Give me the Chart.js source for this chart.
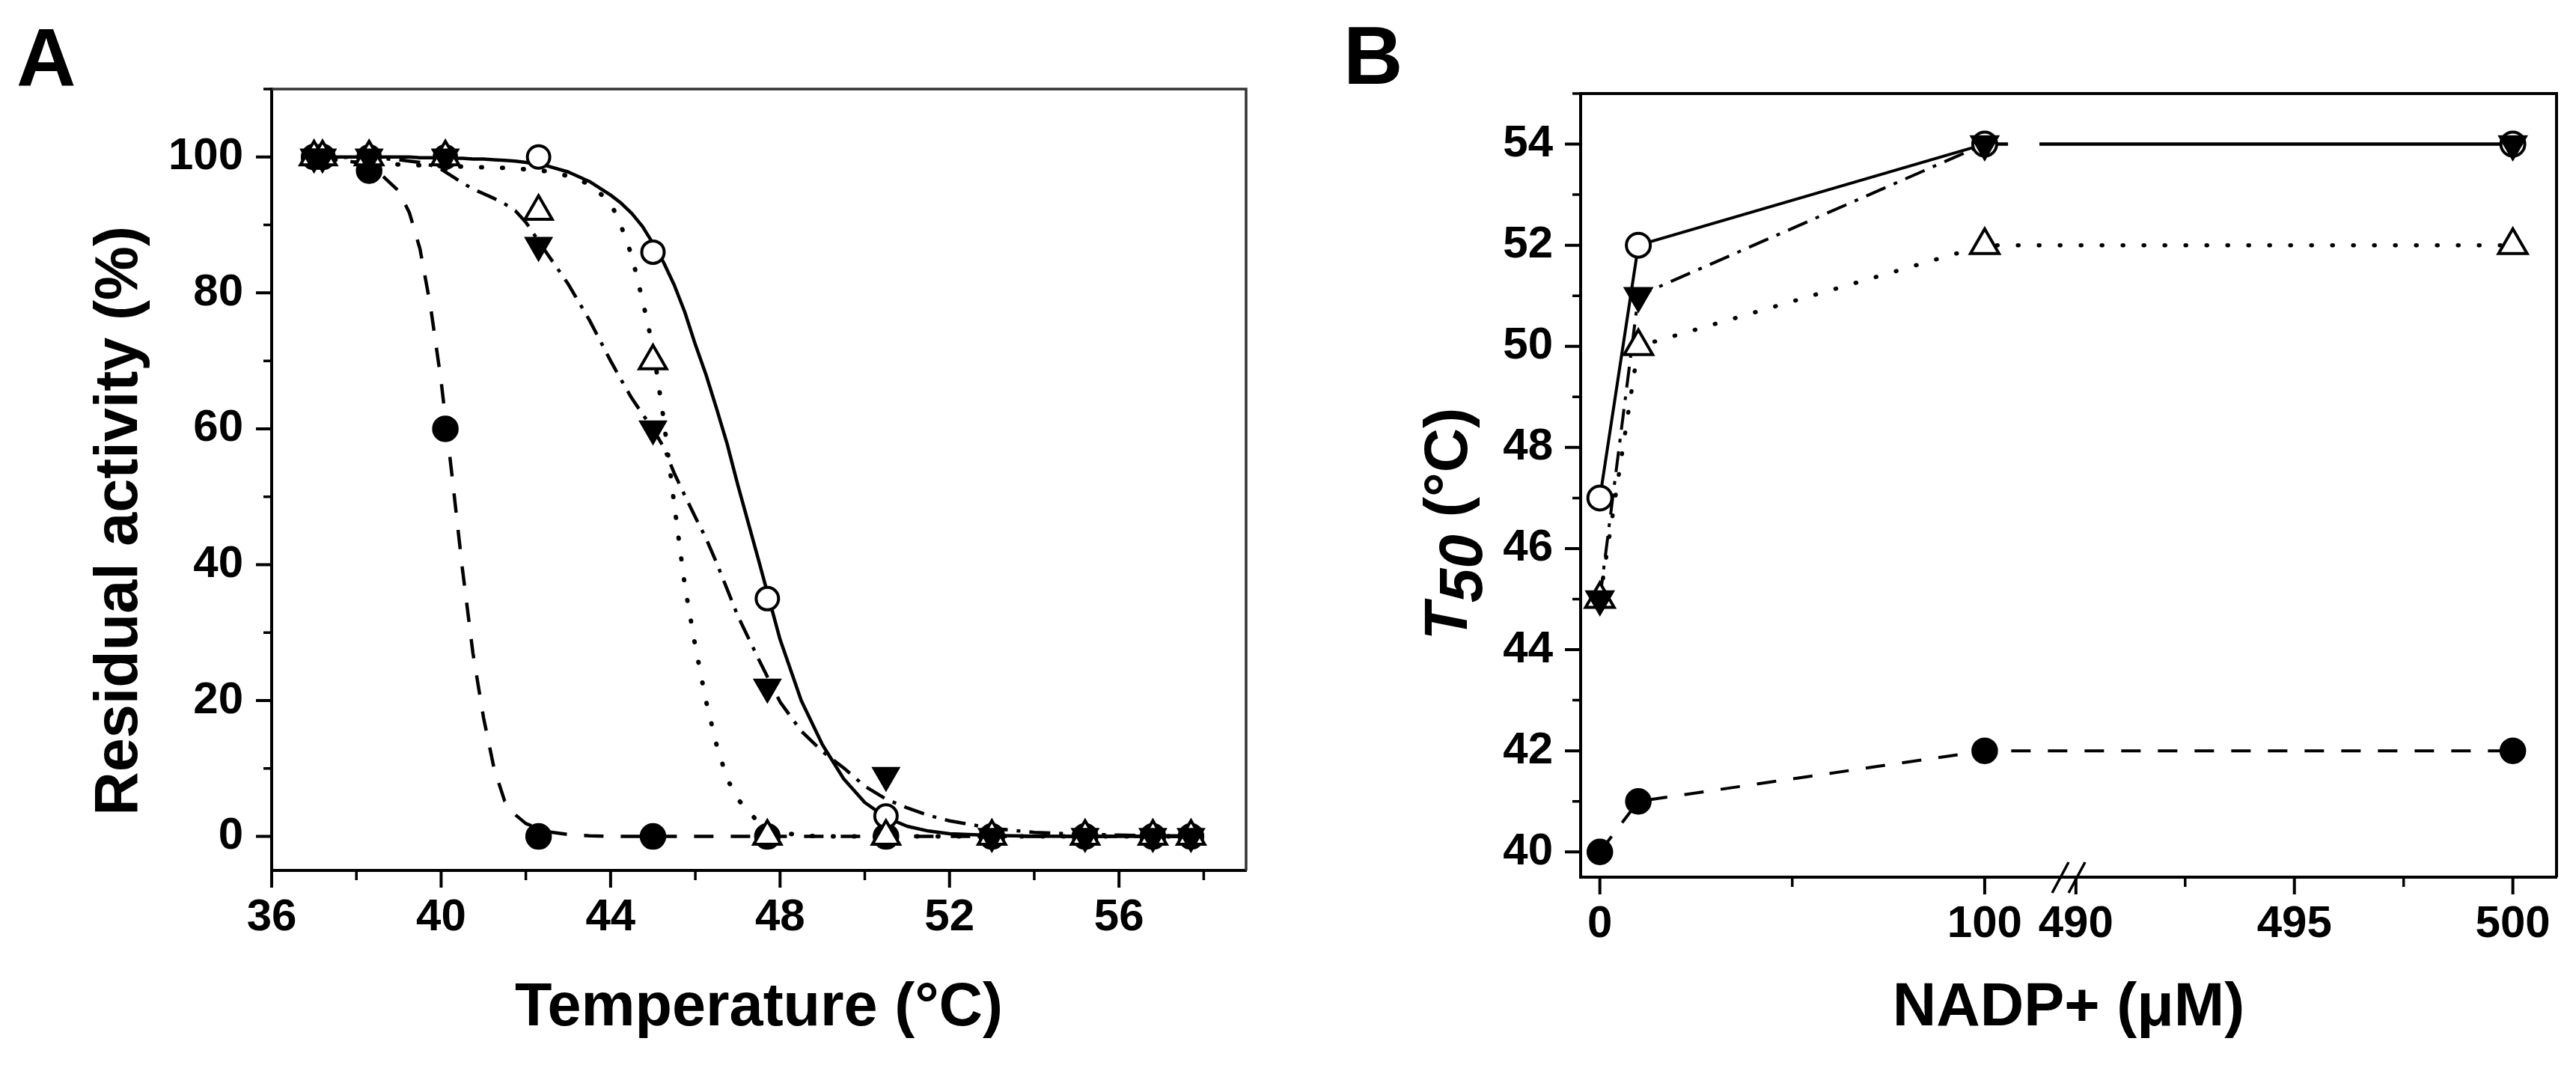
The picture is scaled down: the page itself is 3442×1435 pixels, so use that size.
<!DOCTYPE html>
<html>
<head>
<meta charset="utf-8">
<title>Thermal inactivation and NADP+ protection</title>
<script src="https://cdn.jsdelivr.net/npm/chart.js@4.4.1/dist/chart.umd.min.js"></script>
<style>
  html, body { margin: 0; padding: 0; background: #fff; }
  body { width: 3442px; height: 1435px; position: relative; overflow: hidden; }
  canvas { position: absolute; top: 0; }
  #panelA { left: 0; }
  #panelB { left: 1720px; }
</style>
</head>
<body>
<canvas id="panelA" width="1720" height="1435"></canvas>
<canvas id="panelB" width="1722" height="1435"></canvas>
<script>
const FONT = "'Liberation Sans', Arial, Helvetica, sans-serif";

// ---------- Panel A: residual activity after heating ----------
const tempPoints = [37.0, 37.2, 38.3, 40.1, 42.3, 45.0, 47.7, 50.5, 53.0, 55.2, 56.8, 57.7];
const activityOpenCircle     = [100, 100, 100, 100, 100, 86, 35, 3, 0, 0, 0, 0];
const activityOpenTriangle   = [100, 100, 100, 100, 92, 70, 0, 0, 0, 0, 0, 0];
const activityFilledTriangle = [100, 100, 100, 100, 87, 60, 22, 9, 0, 0, 0, 0];
const activityFilledCircle   = [100, 100, 98, 60, 0, 0, 0, 0, 0, 0, 0, 0];

// fitted curves
const fitTemps = [
  37, 37.5, 38, 38.5, 39, 39.25, 39.5, 39.75,
  40, 40.25, 40.5, 40.75, 41, 41.25, 41.5, 41.75,
  42, 42.5, 43, 43.5, 44, 44.25, 44.5, 44.75,
  45, 45.25, 45.5, 45.75, 46, 46.25, 46.5, 46.75,
  47, 47.5, 48, 48.5, 49, 49.5, 50, 50.5,
  51, 51.5, 52, 53, 54, 55, 56, 57, 57.7
];
const fitOpenCircle = [
  100, 100, 100, 100, 100, 100, 99.9, 99.9,
  99.9, 99.8, 99.8, 99.7, 99.7, 99.6, 99.5, 99.4,
  99.2, 98.7, 97.8, 96.4, 94.4, 93.2, 91.7, 89.8,
  87.3, 84.5, 81.2, 77.2, 72.4, 68, 63, 57.8,
  51.8, 40.5, 29, 20, 13.5, 8.5, 5, 2.8,
  1.5, 0.8, 0.4, 0.15, 0.05, 0, 0, 0, 0
];
const fitOpenTriangle = [
  100, 99.6, 99.2, 99, 98.9, 98.8, 98.8, 98.7,
  98.7, 98.6, 98.6, 98.5, 98.5, 98.4, 98.4, 98.3,
  98.2, 97.9, 97.2, 96, 93.3, 89.8, 85.5, 79,
  72, 61.5, 49, 37, 28, 20, 13.5, 8.5,
  5.5, 2, 0.6, 0.15, 0, 0, 0, 0,
  0, 0, 0, 0, 0, 0, 0, 0, 0
];
const fitFilledTriangle = [
  100, 100, 99.9, 99.8, 99.6, 99.4, 99.2, 98.8,
  98.2, 97.2, 96.2, 95.3, 94.6, 93.9, 93.1, 92.1,
  90.4, 85.8, 81.3, 76, 70, 67.2, 64.5, 62.2,
  60, 57.3, 53.5, 50.2, 47, 43.9, 40.3, 36.4,
  32.5, 26, 19.8, 15.5, 12.5, 10.1, 7.4, 5.5,
  4.2, 3.1, 2.3, 1.2, 0.6, 0.35, 0.2, 0.1, 0.1
];
const fitFilledCircle = [
  99.9, 99.7, 99.2, 97.9, 95, 91.8, 86.5, 78,
  67, 53.5, 39.5, 27, 17.5, 10, 5.2, 3.2,
  1.9, 0.7, 0.3, 0.1, 0, 0, 0, 0,
  0, 0, 0, 0, 0, 0, 0, 0,
  0, 0, 0, 0, 0, 0, 0, 0,
  0, 0, 0, 0, 0, 0, 0, 0, 0
];

const tempTicks = [36, 40, 44, 48, 52, 56];
const tempMinorTicks = [38, 42, 46, 50, 54, 58];
const activityTicks = [0, 20, 40, 60, 80, 100];
const activityMinorTicks = [10, 30, 50, 70, 90, 110];

// ---------- Panel B: T50 versus NADP+ ----------
const nadpConc = [0, 10, 100, 500];
const t50OpenCircle     = [47, 52, 54, 54];
const t50FilledTriangle = [45, 51, 54, 54];
const t50OpenTriangle   = [45, 50, 52, 52];
const t50FilledCircle   = [40, 41, 42, 42];

const nadpTicks = [0, 100, 490, 495, 500];
const nadpMinorTicks = [50, 492.5, 497.5];
const t50Ticks = [40, 42, 44, 46, 48, 50, 52, 54];
const t50MinorTicks = [41, 43, 45, 47, 49, 51, 53, 55];

// broken x axis: the low part and the high part share the axis width
const NADP_LOW = [-5, 122];
const NADP_HIGH = [489.85, 501];
const NADP_SPLIT = 0.5008;

function nadpToDecimal(v) {
  if (v <= NADP_LOW[1]) {
    return (v - NADP_LOW[0]) / (NADP_LOW[1] - NADP_LOW[0]) * NADP_SPLIT;
  }
  return NADP_SPLIT + (v - NADP_HIGH[0]) / (NADP_HIGH[1] - NADP_HIGH[0]) * (1 - NADP_SPLIT);
}

function decimalToNadp(d) {
  if (d <= NADP_SPLIT) {
    return NADP_LOW[0] + d / NADP_SPLIT * (NADP_LOW[1] - NADP_LOW[0]);
  }
  return NADP_HIGH[0] + (d - NADP_SPLIT) / (1 - NADP_SPLIT) * (NADP_HIGH[1] - NADP_HIGH[0]);
}

// Linear scale with a gap in the middle (Origin style axis break)
class BrokenLinearScale extends Chart.LinearScale {
  getPixelForValue(value) {
    return this.getPixelForDecimal(nadpToDecimal(value));
  }
  getValueForPixel(pixel) {
    return decimalToNadp(this.getDecimalForPixel(pixel));
  }
}
BrokenLinearScale.id = 'brokenLinear';
BrokenLinearScale.defaults = Chart.LinearScale.defaults;
Chart.register(BrokenLinearScale);

// ---------- styles ----------
const LINE_STYLES = {
  solid:   { borderDash: [], borderCapStyle: 'butt' },
  dotted:  { borderDash: [1, 27], borderCapStyle: 'round' },
  dashDot: { borderDash: [28, 12, 5, 12], borderCapStyle: 'butt' },
  dashed:  { borderDash: [26, 23], borderCapStyle: 'butt' }
};

function marker(kind, radius) {
  const filled = kind === 'filledCircle' || kind === 'filledTriangle';
  return {
    pointStyle: kind.indexOf('Circle') >= 0 ? 'circle' : 'triangle',
    pointRotation: kind === 'filledTriangle' ? 180 : 0,
    pointRadius: radius,
    pointBackgroundColor: filled ? '#000' : '#fff',
    pointBorderColor: '#000',
    pointBorderWidth: filled ? 1.5 : 4
  };
}

function markerSeries(xs, ys, style, order) {
  return Object.assign({
    data: xs.map((x, i) => ({ x: x, y: ys[i] })),
    showLine: false,
    order: order
  }, style);
}

function curveSeries(xs, ys, style, width, order, extra) {
  return Object.assign({
    data: xs.map((x, i) => ({ x: x, y: ys[i] })),
    showLine: true,
    pointRadius: 0,
    borderColor: '#000',
    borderWidth: width,
    borderJoinStyle: 'round',
    tension: 0,
    order: order
  }, style, extra || {});
}

// The lines at the top leave a short gap just before the axis break
function breakGap(ctx) {
  const x0 = nadpConc[ctx.p0DataIndex];
  const x1 = nadpConc[ctx.p1DataIndex];
  if (!(x0 <= NADP_LOW[1] && x1 >= NADP_HIGH[0])) {
    return undefined;
  }
  const breakPx = ctx.chart.scales.x.getPixelForValue(NADP_HIGH[0]);
  return [Math.max(1, breakPx - 82 - ctx.p0.x), 42, 100000];
}

// ---------- drawing helpers ----------
function drawTickMarks(ctx, scale, values, length, width) {
  ctx.lineWidth = width;
  ctx.beginPath();
  values.forEach(v => {
    const p = scale.getPixelForValue(v);
    if (scale.isHorizontal()) {
      ctx.moveTo(p, scale.top);
      ctx.lineTo(p, scale.top + length);
    } else {
      ctx.moveTo(scale.right - length, p);
      ctx.lineTo(scale.right, p);
    }
  });
  ctx.stroke();
}

function drawRotatedTitle(ctx, parts, baseX, centerY) {
  ctx.save();
  ctx.translate(baseX, centerY);
  ctx.rotate(-Math.PI / 2);
  ctx.fillStyle = '#000';
  ctx.textAlign = 'left';
  ctx.textBaseline = 'alphabetic';
  const widths = parts.map(p => { ctx.font = p.font; return ctx.measureText(p.text).width; });
  let x = -widths.reduce((a, b) => a + b, 0) / 2;
  parts.forEach((p, i) => {
    ctx.font = p.font;
    ctx.fillText(p.text, x, p.shift || 0);
    x += widths[i];
  });
  ctx.restore();
}

function panelDecorations(cfg) {
  return {
    id: 'panelDecorations',
    afterDraw(chart) {
      const { ctx, chartArea, scales } = chart;
      ctx.save();
      ctx.strokeStyle = '#000';
      ctx.lineCap = 'butt';

      // outward ticks, long for labelled values, short in between
      drawTickMarks(ctx, scales.x, cfg.xMajor, 23, 4);
      drawTickMarks(ctx, scales.x, cfg.xMinor, 13, 3.5);
      drawTickMarks(ctx, scales.y, cfg.yMajor, 21, 4);
      drawTickMarks(ctx, scales.y, cfg.yMinor, 11, 3.5);

      // top and right edges of the frame
      ctx.strokeStyle = cfg.frameColor;
      ctx.lineWidth = cfg.frameWidth;
      ctx.beginPath();
      ctx.moveTo(chartArea.left, chartArea.top);
      ctx.lineTo(chartArea.right, chartArea.top);
      ctx.lineTo(chartArea.right, chartArea.bottom);
      ctx.stroke();

      if (cfg.axisBreak) {
        const bx = scales.x.getPixelForValue(NADP_HIGH[0]);
        const by = chartArea.bottom;
        ctx.strokeStyle = '#000';
        ctx.lineWidth = 3.5;
        ctx.beginPath();
        ctx.moveTo(bx - 23, by + 21);
        ctx.lineTo(bx - 1, by - 20);
        ctx.moveTo(bx - 1, by + 21);
        ctx.lineTo(bx + 21, by - 20);
        ctx.stroke();
      }

      drawRotatedTitle(ctx, cfg.yTitle, cfg.yTitleX, cfg.yTitleY);

      // panel letter
      ctx.fillStyle = '#000';
      ctx.font = 'bold 110px ' + FONT;
      ctx.textAlign = 'left';
      ctx.textBaseline = 'alphabetic';
      ctx.fillText(cfg.letter, cfg.letterX, cfg.letterY);
      ctx.restore();
    }
  };
}

function axisOptions(extra) {
  return Object.assign({
    grid: { display: false, drawTicks: false },
    border: { display: true, color: '#000', width: 4 },
    ticks: {
      autoSkip: false,
      maxRotation: 0,
      color: '#000',
      font: { family: FONT, size: 60, weight: 'bold' },
      callback: v => String(v)
    }
  }, extra);
}

function setTicks(values) {
  return scale => { scale.ticks = values.map(v => ({ value: v })); };
}

function baseOptions(padding, scales) {
  return {
    responsive: false,
    devicePixelRatio: 1,
    animation: false,
    events: [],
    layout: { padding: padding },
    plugins: { legend: { display: false }, tooltip: { enabled: false } },
    scales: scales
  };
}

// ---------- Panel A ----------
const xA = axisOptions({
  type: 'linear', min: 36, max: 59,
  afterBuildTicks: setTicks(tempTicks),
  afterFit: s => { s.height = 272; },
  title: {
    display: true, text: 'Temperature (°C)', color: '#000',
    font: { family: FONT, size: 81, weight: 'bold' },
    padding: { top: 0, bottom: 39 }
  }
});
xA.ticks.padding = 27;

const yA = axisOptions({
  type: 'linear', min: -5, max: 110,
  afterBuildTicks: setTicks(activityTicks),
  afterFit: s => { s.width = 363; }
});
yA.ticks.padding = 38;

new Chart(document.getElementById('panelA'), {
  type: 'scatter',
  data: {
    datasets: [
      markerSeries(tempPoints, activityFilledTriangle, marker('filledTriangle', 21), 0),
      markerSeries(tempPoints, activityOpenTriangle, marker('openTriangle', 21), 1),
      markerSeries(tempPoints, activityOpenCircle, marker('openCircle', 15), 2),
      markerSeries(tempPoints, activityFilledCircle, marker('filledCircle', 17), 3),
      curveSeries(fitTemps, fitOpenCircle, LINE_STYLES.solid, 4.5, 10),
      curveSeries(fitTemps, fitOpenTriangle, LINE_STYLES.dotted, 6, 11),
      curveSeries(fitTemps, fitFilledTriangle, LINE_STYLES.dashDot, 4.5, 12),
      curveSeries(fitTemps, fitFilledCircle, LINE_STYLES.dashed, 4.5, 13)
    ]
  },
  options: baseOptions({ top: 119, right: 55, left: 0, bottom: 0 }, { x: xA, y: yA }),
  plugins: [panelDecorations({
    xMajor: tempTicks, xMinor: tempMinorTicks,
    yMajor: activityTicks, yMinor: activityMinorTicks,
    frameColor: '#333', frameWidth: 3.5,
    yTitle: [{ text: 'Residual activity (%)', font: 'bold 81px ' + FONT }],
    yTitleX: 183, yTitleY: 696,
    letter: 'A', letterX: 22, letterY: 114
  })]
});

// ---------- Panel B ----------
const xB = axisOptions({
  type: 'brokenLinear', min: -5, max: 501,
  afterBuildTicks: setTicks(nadpTicks),
  afterFit: s => { s.height = 263; },
  title: {
    display: true, text: 'NADP+ (μM)', color: '#000',
    font: { family: FONT, size: 81, weight: 'bold' },
    padding: { top: 0, bottom: 39 }
  }
});
xB.ticks.padding = 27;

const yB = axisOptions({
  type: 'linear', min: 39.5, max: 55,
  afterBuildTicks: setTicks(t50Ticks),
  afterFit: s => { s.width = 392; }
});
yB.ticks.padding = 37;

new Chart(document.getElementById('panelB'), {
  type: 'scatter',
  data: {
    datasets: [
      markerSeries(nadpConc, t50FilledTriangle, marker('filledTriangle', 22), 0),
      markerSeries(nadpConc, t50OpenTriangle, marker('openTriangle', 22), 1),
      markerSeries(nadpConc, t50OpenCircle, marker('openCircle', 16), 2),
      markerSeries(nadpConc, t50FilledCircle, marker('filledCircle', 17), 3),
      curveSeries(nadpConc, t50OpenCircle, LINE_STYLES.solid, 4, 10, { segment: { borderDash: breakGap } }),
      curveSeries(nadpConc, t50OpenTriangle, LINE_STYLES.dotted, 5.5, 11),
      curveSeries(nadpConc, t50FilledTriangle, LINE_STYLES.dashDot, 4, 12, { segment: { borderDash: breakGap } }),
      curveSeries(nadpConc, t50FilledCircle, LINE_STYLES.dashed, 4, 13)
    ]
  },
  options: baseOptions({ top: 125, right: 26, left: 0, bottom: 0 }, { x: xB, y: yB }),
  plugins: [panelDecorations({
    xMajor: nadpTicks, xMinor: nadpMinorTicks,
    yMajor: t50Ticks, yMinor: t50MinorTicks,
    frameColor: '#000', frameWidth: 4,
    axisBreak: true,
    yTitle: [
      { text: 'T', font: 'italic bold 82px ' + FONT },
      { text: '50', font: 'italic bold 82px ' + FONT, shift: 20 },
      { text: ' (°C)', font: 'bold 82px ' + FONT }
    ],
    yTitleX: 240, yTitleY: 700,
    letter: 'B', letterX: 75, letterY: 112
  })]
});
</script>
</body>
</html>
